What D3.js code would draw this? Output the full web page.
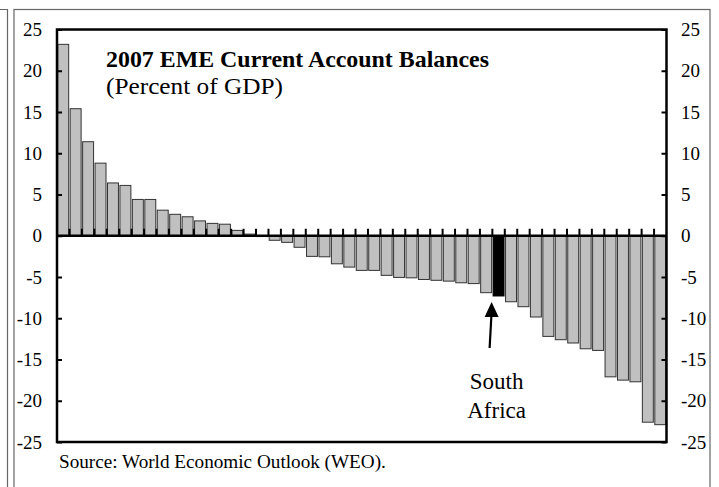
<!doctype html>
<html lang="en">
<head>
    <meta http-equiv="content-type" content="text/html; charset=utf-8" />
    <title>2007 EME Current Account Balances</title>
    <style>
        html, body { margin: 0; padding: 0; background: #fff; }
        svg { display: block; font-family: "Liberation Serif", "Times New Roman", serif; }
    </style>
</head>
<body>
    <svg id="chart"></svg>

    <script src="https://cdn.jsdelivr.net/npm/d3@7/dist/d3.min.js"></script>

    <script>
        // current account balance, percent of GDP, sorted high to low (49 EMEs)
        const balances = [
            23.2, 15.4, 11.4, 8.8, 6.4, 6.1, 4.4, 4.4, 3.1, 2.6,
            2.3, 1.8, 1.5, 1.4, 0.65, 0.2, -0.1, -0.55, -0.8, -1.4,
            -2.5, -2.55, -3.4, -3.8, -4.2, -4.2, -4.8, -5.05, -5.1, -5.3,
            -5.4, -5.5, -5.7, -5.8, -6.9, -7.3, -8.0, -8.6, -9.85, -12.2,
            -12.6, -13.0, -13.7, -13.9, -17.1, -17.5, -17.7, -22.6, -22.9
        ];
        const highlightIndex = 35; // South Africa
        const highlightLabel = ["South", "Africa"];
        const yTicks = [25, 20, 15, 10, 5, 0, -5, -10, -15, -20, -25];
        const title = "2007 EME Current Account Balances";
        const subtitle = "(Percent of GDP)";
        const source = "Source: World Economic Outlook (WEO).";

        const width = 719, height = 487;
        const margin = {top: 29.5, right: 52.5, bottom: 45, left: 57};

        const svg = d3.select("#chart")
            .attr("width", width)
            .attr("height", height);

        // panel frames (neighbour panel edge + this panel)
        svg.append("path")
            .attr("d", "M0,9.5H7.5V500")
            .attr("fill", "none")
            .attr("stroke", "#666")
            .attr("stroke-width", 1.2);
        svg.append("rect")
            .attr("x", 14).attr("y", 9.5)
            .attr("width", 696).attr("height", 520)
            .attr("fill", "none")
            .attr("stroke", "#666")
            .attr("stroke-width", 1.2);

        const x = d3.scaleBand()
            .domain(d3.range(balances.length))
            .range([margin.left, width - margin.right])
            .paddingInner(0.12)
            .paddingOuter(0.06);

        const y = d3.scaleLinear()
            .domain([-25, 25])
            .range([height - margin.bottom, margin.top]);

        // bars
        svg.append("g")
            .selectAll("rect")
            .data(balances)
            .join("rect")
            .attr("x", (d, i) => x(i))
            .attr("width", x.bandwidth())
            .attr("y", d => y(Math.max(0, d)))
            .attr("height", d => Math.abs(y(d) - y(0)))
            .attr("fill", (d, i) => i === highlightIndex ? "#000" : "#c0c0c0")
            .attr("stroke", (d, i) => i === highlightIndex ? "#000" : "#333")
            .attr("stroke-width", 1);

        // zero line with category ticks (pointing up)
        const step = x.step();
        const boundaries = d3.range(1, balances.length).map(i => x(i) - x.paddingInner() * step / 2);
        svg.append("g")
            .attr("stroke", "#000")
            .attr("stroke-width", 2)
            .selectAll("line")
            .data(boundaries)
            .join("line")
            .attr("x1", d => d).attr("x2", d => d)
            .attr("y1", y(0)).attr("y2", y(0) - 7);

        svg.append("line")
            .attr("x1", margin.left).attr("x2", width - margin.right)
            .attr("y1", y(0)).attr("y2", y(0))
            .attr("stroke", "#000")
            .attr("stroke-width", 2.5);

        // y axes on both sides
        const leftAxis = svg.append("g")
            .attr("transform", `translate(${margin.left},0)`)
            .call(d3.axisRight(y).tickValues(yTicks).tickSize(5).tickFormat(""));
        const rightAxis = svg.append("g")
            .attr("transform", `translate(${width - margin.right},0)`)
            .call(d3.axisLeft(y).tickValues(yTicks).tickSize(5).tickFormat(""));
        [leftAxis, rightAxis].forEach(g => {
            g.select(".domain").remove();
            g.selectAll(".tick line").attr("stroke", "#000").attr("stroke-width", 2);
        });

        svg.append("g")
            .attr("font-size", 19)
            .selectAll("text")
            .data(yTicks)
            .join("text")
            .attr("x", 42)
            .attr("y", d => y(d))
            .attr("dy", "0.35em")
            .attr("text-anchor", "end")
            .text(d => d);

        svg.append("g")
            .attr("font-size", 19)
            .selectAll("text")
            .data(yTicks)
            .join("text")
            .attr("x", 681)
            .attr("y", d => y(d))
            .attr("dy", "0.35em")
            .text(d => d);

        // plot frame
        svg.append("rect")
            .attr("x", margin.left).attr("y", margin.top)
            .attr("width", width - margin.left - margin.right)
            .attr("height", height - margin.top - margin.bottom)
            .attr("fill", "none")
            .attr("stroke", "#000")
            .attr("stroke-width", 2.5);

        // titles
        svg.append("text")
            .attr("x", 106).attr("y", 67)
            .attr("font-size", 22.5)
            .attr("font-weight", "bold")
            .attr("textLength", 383)
            .attr("lengthAdjust", "spacingAndGlyphs")
            .text(title);
        svg.append("text")
            .attr("x", 106).attr("y", 94)
            .attr("font-size", 22.5)
            .attr("textLength", 177)
            .attr("lengthAdjust", "spacingAndGlyphs")
            .text(subtitle);

        // South Africa annotation
        const ax = x(highlightIndex) - 1.5;
        const tipY = y(balances[highlightIndex]) + 6;
        svg.append("path")
            .attr("d", `M${ax},${tipY}L${ax + 7},${tipY + 15}L${ax - 7},${tipY + 15}Z`)
            .attr("fill", "#000");
        svg.append("line")
            .attr("x1", ax - 2).attr("y1", tipY + 46)
            .attr("x2", ax).attr("y2", tipY + 10)
            .attr("stroke", "#000")
            .attr("stroke-width", 2.2);

        svg.append("text")
            .attr("font-size", 23)
            .attr("text-anchor", "middle")
            .selectAll("tspan")
            .data(highlightLabel)
            .join("tspan")
            .attr("x", ax + 5)
            .attr("y", (d, i) => 389 + i * 29)
            .text(d => d);

        svg.append("text")
            .attr("x", 59).attr("y", 468)
            .attr("font-size", 19.2)
            .text(source);
    </script>
</body>
</html>
